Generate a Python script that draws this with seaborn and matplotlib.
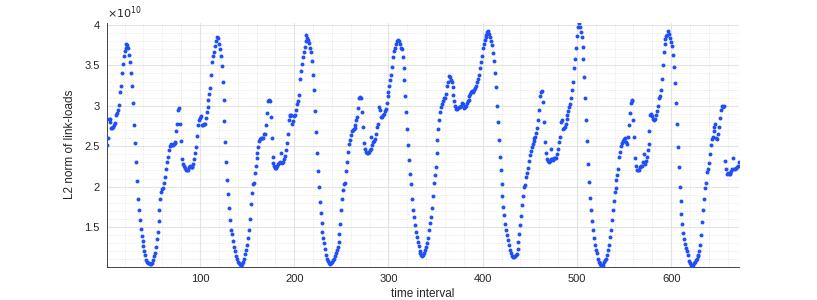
import numpy as np
import pandas as pd
import matplotlib
matplotlib.use("Agg")
import matplotlib.pyplot as plt
import seaborn as sns
from matplotlib.ticker import MultipleLocator, FixedLocator, FuncFormatter

# L2 norm of link-loads per time interval, in units of 1e10 (one list per day, 96 intervals each)
day1 = [2.51, 2.60, 2.84, 2.80, 2.84, 2.72, 2.73, 2.74, 2.76, 2.79,
        2.88, 2.91, 2.95, 3.01, 3.17, 3.25, 3.40, 3.52, 3.61, 3.68,
        3.72, 3.77, 3.75, 3.72, 3.63, 3.54, 3.41, 3.24, 3.04, 2.76,
        2.54, 2.30, 2.07, 1.85, 1.71, 1.59, 1.48, 1.39, 1.33, 1.26,
        1.21, 1.15, 1.09, 1.07, 1.06, 1.05, 1.04, 1.04, 1.06, 1.09,
        1.14, 1.18, 1.25, 1.35, 1.44, 1.58, 1.71, 1.85, 1.93, 1.97,
        1.98, 2.05, 2.12, 2.22, 2.30, 2.37, 2.45, 2.50, 2.53, 2.52,
        2.52, 2.53, 2.54, 2.55, 2.69, 2.77, 2.95, 2.97, 2.77, 2.57,
        2.34, 2.28, 2.25, 2.23, 2.20, 2.21, 2.21, 2.24, 2.26, 2.24,
        2.24, 2.24, 2.28, 2.34, 2.41, 2.49]
day2 = [2.63, 2.76, 2.82, 2.85, 2.87, 2.76, 2.76, 2.77, 2.78, 2.85,
        2.92, 2.98, 3.07, 3.15, 3.22, 3.38, 3.54, 3.61, 3.67, 3.74,
        3.80, 3.85, 3.84, 3.77, 3.70, 3.61, 3.49, 3.29, 3.07, 2.81,
        2.55, 2.31, 2.08, 1.91, 1.73, 1.59, 1.47, 1.41, 1.33, 1.25,
        1.20, 1.14, 1.11, 1.07, 1.05, 1.04, 1.03, 1.02, 1.04, 1.07,
        1.11, 1.17, 1.22, 1.28, 1.36, 1.47, 1.60, 1.78, 1.92, 2.03,
        2.05, 2.17, 2.26, 2.35, 2.42, 2.49, 2.56, 2.59, 2.60, 2.60,
        2.60, 2.65, 2.65, 2.76, 2.91, 3.06, 3.07, 3.06, 2.86, 2.60,
        2.37, 2.29, 2.25, 2.23, 2.23, 2.26, 2.28, 2.29, 2.30, 2.42,
        2.29, 2.31, 2.34, 2.38, 2.45, 2.54]
day3 = [2.65, 2.82, 2.87, 2.88, 2.89, 2.78, 2.81, 2.87, 2.88, 2.95,
        3.02, 3.06, 3.13, 3.33, 3.43, 3.52, 3.60, 3.67, 3.73, 3.80,
        3.88, 3.84, 3.81, 3.78, 3.72, 3.67, 3.56, 3.38, 3.19, 2.93,
        2.67, 2.41, 2.19, 2.00, 1.81, 1.67, 1.55, 1.44, 1.36, 1.30,
        1.23, 1.16, 1.11, 1.08, 1.06, 1.04, 1.05, 1.07, 1.09, 1.11,
        1.14, 1.18, 1.22, 1.25, 1.32, 1.42, 1.54, 1.71, 1.85, 1.96,
        2.03, 2.04, 2.19, 2.31, 2.43, 2.53, 2.58, 2.64, 2.69, 2.70,
        2.71, 2.72, 2.76, 2.82, 2.86, 2.97, 3.10, 3.11, 3.10, 2.92,
        2.74, 2.54, 2.46, 2.43, 2.42, 2.42, 2.43, 2.45, 2.47, 2.61,
        2.51, 2.55, 2.57, 2.59, 2.65, 2.74]
day4 = [2.78, 2.98, 2.95, 2.86, 2.86, 2.88, 2.90, 2.94, 2.96, 3.04,
        3.12, 3.17, 3.25, 3.32, 3.38, 3.48, 3.60, 3.68, 3.72, 3.76,
        3.80, 3.81, 3.80, 3.77, 3.71, 3.70, 3.60, 3.47, 3.32, 3.12,
        2.92, 2.71, 2.52, 2.33, 2.16, 2.03, 1.85, 1.71, 1.62, 1.52,
        1.44, 1.38, 1.32, 1.26, 1.21, 1.18, 1.15, 1.14, 1.15, 1.18,
        1.22, 1.25, 1.30, 1.37, 1.47, 1.55, 1.62, 1.74, 1.89, 2.04,
        2.14, 2.24, 2.42, 2.58, 2.71, 2.82, 2.92, 2.98, 3.02, 3.06,
        3.10, 3.10, 3.14, 3.24, 3.30, 3.37, 3.35, 3.32, 3.29, 3.23,
        3.13, 3.06, 3.00, 2.96, 2.96, 2.97, 2.98, 2.99, 3.00, 3.04,
        3.02, 2.97, 2.98, 3.00, 3.03, 3.06]
day5 = [3.07, 3.12, 3.15, 3.17, 3.18, 3.17, 3.19, 3.22, 3.25, 3.29,
        3.33, 3.38, 3.47, 3.54, 3.62, 3.72, 3.76, 3.81, 3.85, 3.88,
        3.91, 3.93, 3.89, 3.85, 3.80, 3.75, 3.65, 3.55, 3.40, 3.23,
        3.00, 2.80, 2.58, 2.37, 2.21, 2.03, 1.88, 1.75, 1.65, 1.54,
        1.46, 1.40, 1.34, 1.28, 1.22, 1.18, 1.14, 1.13, 1.13, 1.14,
        1.15, 1.17, 1.23, 1.32, 1.42, 1.52, 1.64, 1.77, 1.88, 2.00,
        2.02, 2.12, 2.17, 2.23, 2.32, 2.39, 2.44, 2.49, 2.53, 2.57,
        2.60, 2.62, 2.66, 2.72, 2.83, 2.95, 3.12, 3.17, 3.18, 3.05,
        2.80, 2.55, 2.41, 2.34, 2.32, 2.30, 2.32, 2.34, 2.47, 2.34,
        2.33, 2.35, 2.36, 2.36, 2.40, 2.47]
day6 = [2.55, 2.61, 2.80, 2.82, 2.71, 2.73, 2.74, 2.78, 2.84, 2.89,
        2.93, 2.98, 3.02, 3.10, 3.19, 3.30, 3.47, 3.58, 3.72, 3.86,
        3.97, 4.02, 3.98, 3.91, 3.85, 3.73, 3.58, 3.36, 3.10, 2.83,
        2.57, 2.28, 2.06, 1.86, 1.71, 1.58, 1.46, 1.36, 1.28, 1.22,
        1.18, 1.11, 1.07, 1.05, 1.04, 1.02, 1.02, 1.03, 1.07, 1.09,
        1.11, 1.15, 1.22, 1.28, 1.38, 1.46, 1.59, 1.71, 1.82, 1.93,
        1.98, 2.08, 2.15, 2.22, 2.37, 2.43, 2.50, 2.54, 2.56, 2.59,
        2.60, 2.55, 2.53, 2.62, 2.76, 2.91, 3.04, 3.07, 3.06, 2.83,
        2.61, 2.35, 2.25, 2.20, 2.20, 2.20, 2.24, 2.26, 2.26, 2.30,
        2.40, 2.28, 2.32, 2.37, 2.45, 2.53]
day7 = [2.69, 2.88, 2.90, 2.87, 2.84, 2.82, 2.84, 2.88, 2.94, 3.00,
        3.10, 3.12, 3.19, 3.33, 3.50, 3.67, 3.77, 3.82, 3.86, 3.88,
        3.92, 3.89, 3.84, 3.79, 3.74, 3.63, 3.48, 3.28, 3.04, 2.78,
        2.49, 2.24, 2.00, 1.82, 1.66, 1.54, 1.43, 1.35, 1.29, 1.24,
        1.20, 1.15, 1.08, 1.06, 1.03, 1.02, 1.03, 1.05, 1.07, 1.09,
        1.11, 1.14, 1.15, 1.20, 1.28, 1.40, 1.56, 1.71, 1.85, 1.98,
        2.04, 2.18, 2.22, 2.29, 2.40, 2.51, 2.59, 2.62, 2.69, 2.74,
        2.77, 2.60, 2.59, 2.65, 2.74, 2.85, 2.95, 3.00, 2.99, 3.00,
        2.32, 2.22, 2.16, 2.17, 2.16, 2.16, 2.17, 2.19, 2.22, 2.36,
        2.22, 2.22, 2.23, 2.24, 2.26, 2.30]

l2_norm = day1 + day2 + day3 + day4 + day5 + day6 + day7
time_interval = np.arange(1, len(l2_norm) + 1)

df = pd.DataFrame({"time interval": time_interval, "L2 norm": l2_norm})

sns.set_style("white")
plt.rcParams["font.family"] = ["Liberation Sans", "DejaVu Sans"]

dark = "#262626"
fig = plt.figure(figsize=(8.17, 3.0), dpi=100)
ax = fig.add_axes([0.1306, 0.111, 0.7739, 0.814])

sns.scatterplot(data=df, x="time interval", y="L2 norm", ax=ax,
                color="#1f4ff5", s=8, linewidth=0, legend=False, zorder=3)

ax.set_xlim(1, 672)
ax.set_ylim(1.01, 4.03)

ax.xaxis.set_major_locator(FixedLocator([100, 200, 300, 400, 500, 600]))
ax.xaxis.set_minor_locator(MultipleLocator(20))
ax.yaxis.set_major_locator(FixedLocator([1.5, 2, 2.5, 3, 3.5, 4]))
ax.yaxis.set_minor_locator(MultipleLocator(0.1))
ax.yaxis.set_major_formatter(FuncFormatter(lambda v, _: f"{v:g}"))

ax.grid(which="major", color="#e4e4e4", linewidth=0.8, linestyle="-")
ax.grid(which="minor", color="#dadada", linewidth=0.5, linestyle=":")
ax.set_axisbelow(True)

ax.tick_params(which="major", direction="in", length=3, width=0.6,
               color=dark, labelcolor=dark, labelsize=8, pad=5)
ax.tick_params(which="minor", length=0)

for side in ["top", "right"]:
    ax.spines[side].set_visible(False)
for side in ["left", "bottom"]:
    ax.spines[side].set_color(dark)
    ax.spines[side].set_linewidth(0.6)

ax.set_xlabel("time interval", fontsize=8.5, color=dark, labelpad=3)
ax.set_ylabel("L2 norm of link-loads", fontsize=8.5, color=dark, labelpad=6)
ax.text(0.0, 1.008, r"$\times10^{10}$", transform=ax.transAxes,
        fontsize=8, color=dark, ha="left", va="bottom")

fig.savefig("out.png", dpi=100)
